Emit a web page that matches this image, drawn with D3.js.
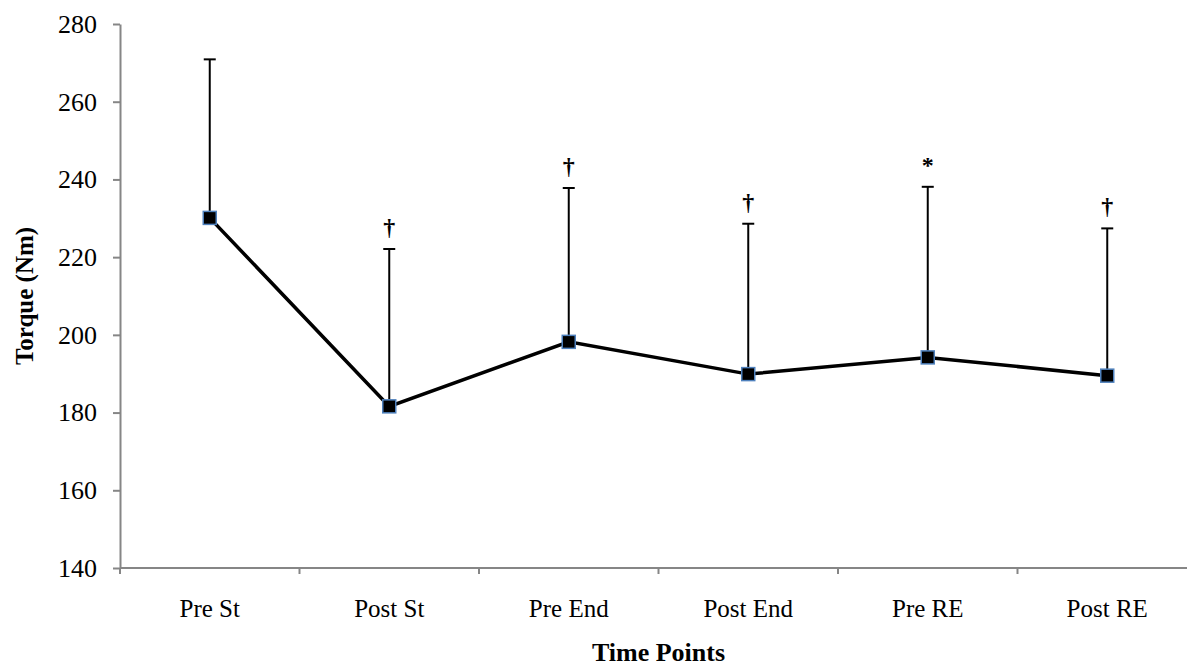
<!DOCTYPE html>
<html>
<head>
<meta charset="utf-8">
<script src="https://cdn.jsdelivr.net/npm/d3@7"></script>
<style>
  body { margin: 0; background: #fff; }
  svg { display: block; font-family: "Liberation Serif", "Times New Roman", serif; }
</style>
</head>
<body>
<script>
const categories = ["Pre St", "Post St", "Pre End", "Post End", "Pre RE", "Post RE"];
const torque = [230.1, 181.6, 198.2, 189.9, 194.2, 189.5];
const errorTop = [270.9, 222.1, 237.8, 228.6, 238.1, 227.4];
const marks = ["", "\u2020", "\u2020", "\u2020", "*", "\u2020"];
const yTicks = [140, 160, 180, 200, 220, 240, 260, 280];

const width = 1187, height = 669;
const margin = { top: 24, left: 120, bottom: 101 };
const plotRight = 1197;

const svg = d3.select("body").append("svg")
  .attr("width", width)
  .attr("height", height);

const x = d3.scaleBand()
  .domain(categories)
  .range([margin.left, plotRight]);

const y = d3.scaleLinear()
  .domain([140, 280])
  .range([height - margin.bottom, margin.top]);

const cx = d => x(d) + x.bandwidth() / 2;

// y axis
const yAxis = svg.append("g")
  .attr("transform", `translate(${margin.left},0)`)
  .call(d3.axisLeft(y).tickValues(yTicks).tickSize(7).tickSizeOuter(0).tickPadding(16));
yAxis.select(".domain").attr("stroke", "#868686").attr("stroke-width", 2);
yAxis.selectAll(".tick line").attr("stroke", "#868686").attr("stroke-width", 2);
yAxis.selectAll(".tick text")
  .attr("font-size", 26).attr("fill", "#000")
  .attr("font-family", "Liberation Serif, Times New Roman, serif");

// x axis: ticks at band boundaries
const xAxis = svg.append("g")
  .attr("transform", `translate(0,${y(140)})`);
xAxis.append("line")
  .attr("x1", margin.left).attr("x2", plotRight)
  .attr("stroke", "#868686").attr("stroke-width", 2);
xAxis.selectAll(".sep")
  .data(categories)
  .join("line")
  .attr("class", "sep")
  .attr("x1", d => x(d)).attr("x2", d => x(d))
  .attr("y1", 0).attr("y2", 6)
  .attr("stroke", "#868686").attr("stroke-width", 2);
xAxis.selectAll(".lbl")
  .data(categories)
  .join("text")
  .attr("class", "lbl")
  .attr("x", d => cx(d))
  .attr("y", 49)
  .attr("text-anchor", "middle")
  .attr("font-size", 25)
  .text(d => d);

// axis titles
svg.append("text")
  .attr("x", (margin.left + plotRight) / 2)
  .attr("y", 661)
  .attr("text-anchor", "middle")
  .attr("font-size", 26)
  .attr("font-weight", "bold")
  .text("Time Points");

svg.append("text")
  .attr("transform", `translate(33,${(y(140) + y(280)) / 2}) rotate(-90)`)
  .attr("text-anchor", "middle")
  .attr("font-size", 25)
  .attr("font-weight", "bold")
  .text("Torque (Nm)");

const pts = categories.map((c, i) => ({ c, v: torque[i], e: errorTop[i], m: marks[i] }));

// error bars (upper only)
const eb = svg.append("g").attr("stroke", "#000").attr("stroke-width", 2);
eb.selectAll(".bar")
  .data(pts)
  .join("line")
  .attr("x1", d => cx(d.c)).attr("x2", d => cx(d.c))
  .attr("y1", d => y(d.v)).attr("y2", d => y(d.e));
eb.selectAll(".cap")
  .data(pts)
  .join("line")
  .attr("class", "cap")
  .attr("x1", d => cx(d.c) - 6).attr("x2", d => cx(d.c) + 6)
  .attr("y1", d => y(d.e)).attr("y2", d => y(d.e));

// line
svg.append("path")
  .datum(pts)
  .attr("fill", "none")
  .attr("stroke", "#000")
  .attr("stroke-width", 3.5)
  .attr("d", d3.line().x(d => cx(d.c)).y(d => y(d.v)));

// markers
svg.selectAll(".mk")
  .data(pts)
  .join("rect")
  .attr("class", "mk")
  .attr("x", d => cx(d.c) - 6.5)
  .attr("y", d => y(d.v) - 6.5)
  .attr("width", 13).attr("height", 13)
  .attr("fill", "#000")
  .attr("stroke", "#4F81BD")
  .attr("stroke-width", 1.5);

// significance marks
svg.selectAll(".sig")
  .data(pts.filter(d => d.m))
  .join("text")
  .attr("class", "sig")
  .attr("x", d => cx(d.c))
  .attr("y", d => y(d.e) - 14)
  .attr("text-anchor", "middle")
  .attr("font-size", 24)
  .attr("font-weight", "bold")
  .text(d => d.m);
</script>
</body>
</html>
